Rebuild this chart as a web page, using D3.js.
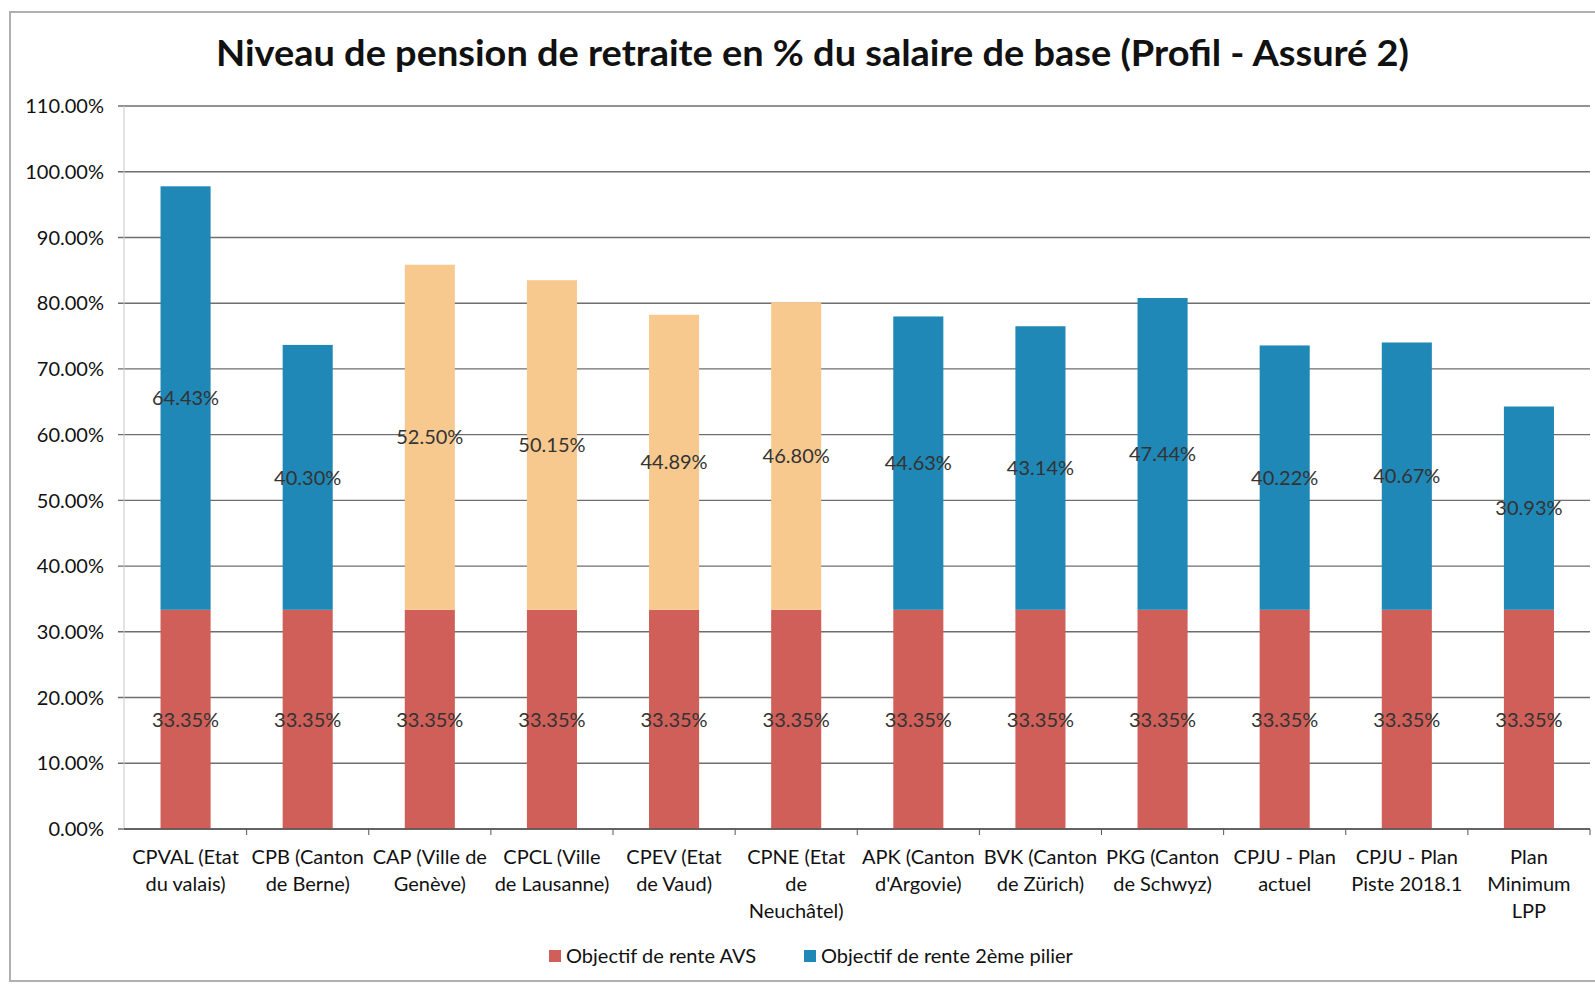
<!DOCTYPE html>
<html>
<head>
<meta charset="utf-8">
<script src="https://cdn.jsdelivr.net/npm/d3@7"></script>
<style>
  body { margin: 0; background: #fff; }
  svg text { font-family: Lato, "Open Sans", sans-serif; }
</style>
</head>
<body>
<div id="chart"></div>
<script>
// chart data
var categories = [
  "CPVAL (Etat\ndu valais)", "CPB (Canton\nde Berne)", "CAP (Ville de\nGenève)",
  "CPCL (Ville\nde Lausanne)", "CPEV (Etat\nde Vaud)", "CPNE (Etat\nde\nNeuchâtel)",
  "APK (Canton\nd'Argovie)", "BVK (Canton\nde Zürich)", "PKG (Canton\nde Schwyz)",
  "CPJU - Plan\nactuel", "CPJU - Plan\nPiste 2018.1", "Plan\nMinimum\nLPP"
];
var avsValues = [33.35, 33.35, 33.35, 33.35, 33.35, 33.35, 33.35, 33.35, 33.35, 33.35, 33.35, 33.35];
var pillarValues = [64.43, 40.30, 52.50, 50.15, 44.89, 46.80, 44.63, 43.14, 47.44, 40.22, 40.67, 30.93];
// bars of the 2nd pillar drawn in peach
var highlighted = ["CAP (Ville de\nGenève)", "CPCL (Ville\nde Lausanne)", "CPEV (Etat\nde Vaud)", "CPNE (Etat\nde\nNeuchâtel)"];
var yTicks = [0, 10, 20, 30, 40, 50, 60, 70, 80, 90, 100, 110];
var seriesNames = ["Objectif de rente AVS", "Objectif de rente 2ème pilier"];

var width = 1595, height = 985;
var colAvs = "#cf5f58", colPillar = "#1f88b6", colHigh = "#f8c98f";

var svg = d3.select("#chart").append("svg")
  .attr("width", width)
  .attr("height", height);

// frame of the chart area
svg.append("rect")
  .attr("x", 10).attr("y", 12)
  .attr("width", 1600).attr("height", 969)
  .attr("fill", "none")
  .attr("stroke", "#b0b0b0")
  .attr("stroke-width", 2);

var x = d3.scaleBand()
  .domain(categories)
  .range([124.5, 1590])
  .paddingInner(0.59)
  .paddingOuter(0.295);

var y = d3.scaleLinear()
  .domain([0, 110])
  .range([829, 106]);

// gridlines
svg.append("g")
  .selectAll("line")
  .data(yTicks)
  .enter()
  .append("line")
  .attr("x1", 118).attr("x2", 1590)
  .attr("y1", function(d) { return y(d); })
  .attr("y2", function(d) { return y(d); })
  .attr("stroke", "#6e6e6e")
  .attr("stroke-width", 1.4);

// y axis line
svg.append("line")
  .attr("x1", 124).attr("x2", 124)
  .attr("y1", y(110)).attr("y2", y(0))
  .attr("stroke", "#c8c8c8")
  .attr("stroke-width", 1);

// y labels
svg.append("g")
  .selectAll("text")
  .data(yTicks)
  .enter()
  .append("text")
  .attr("x", 104)
  .attr("y", function(d) { return y(d); })
  .attr("dy", "0.36em")
  .attr("text-anchor", "end")
  .attr("font-size", 20)
  .attr("fill", "#111")
  .text(function(d) { return d.toFixed(2) + "%"; });

// stacked bars
var stackData = categories.map(function(c, i) {
  return { cat: c, avs: avsValues[i], pillar: pillarValues[i] };
});
var stack = d3.stack().keys(["avs", "pillar"]);
var layers = stack(stackData);

svg.append("g")
  .selectAll("g")
  .data(layers)
  .enter()
  .append("g")
  .each(function(layer) {
    d3.select(this).selectAll("rect")
      .data(layer)
      .enter()
      .append("rect")
      .attr("x", function(d) { return x(d.data.cat); })
      .attr("width", x.bandwidth())
      .attr("y", function(d) { return y(d[1]); })
      .attr("height", function(d) { return y(d[0]) - y(d[1]); })
      .attr("fill", function(d) {
        if (layer.key === "avs") return colAvs;
        return highlighted.indexOf(d.data.cat) >= 0 ? colHigh : colPillar;
      });
  });

// value labels, centred on each segment
layers.forEach(function(layer) {
  svg.append("g")
    .selectAll("text")
    .data(layer)
    .enter()
    .append("text")
    .attr("x", function(d) { return x(d.data.cat) + x.bandwidth() / 2; })
    .attr("y", function(d) { return y((d[0] + d[1]) / 2); })
    .attr("dy", "0.36em")
    .attr("text-anchor", "middle")
    .attr("font-size", 20)
    .attr("fill", "#333")
    .text(function(d) { return (d[1] - d[0]).toFixed(2) + "%"; });
});

// x axis line and tick marks
svg.append("line")
  .attr("x1", 124).attr("x2", 1590)
  .attr("y1", y(0)).attr("y2", y(0))
  .attr("stroke", "#555")
  .attr("stroke-width", 1.4);

var step = x.step();
svg.append("g")
  .selectAll("line")
  .data(categories)
  .enter()
  .append("line")
  .attr("x1", function(d) { return x(d) - x.paddingOuter() * step + step; })
  .attr("x2", function(d) { return x(d) - x.paddingOuter() * step + step; })
  .attr("y1", y(0)).attr("y2", y(0) + 6)
  .attr("stroke", "#555");

// category labels
var catText = svg.append("g")
  .selectAll("text")
  .data(categories)
  .enter()
  .append("text")
  .attr("x", function(d) { return x(d) + x.bandwidth() / 2; })
  .attr("y", 864)
  .attr("text-anchor", "middle")
  .attr("font-size", 20)
  .attr("fill", "#111");

catText.selectAll("tspan")
  .data(function(d) { return d.split("\n"); })
  .enter()
  .append("tspan")
  .attr("x", function() { return d3.select(this.parentNode).attr("x"); })
  .attr("dy", function(d, i) { return i === 0 ? 0 : 27; })
  .text(function(d) { return d; });

// title
svg.append("text")
  .attr("x", 216)
  .attr("y", 66)
  .attr("font-size", 37)
  .attr("font-weight", "bold")
  .attr("fill", "#111")
  .attr("textLength", 1193)
  .attr("lengthAdjust", "spacingAndGlyphs")
  .text("Niveau de pension de retraite en % du salaire de base (Profil - Assuré 2)");

// legend
var legend = [
  { name: seriesNames[0], color: colAvs, x: 549 },
  { name: seriesNames[1], color: colPillar, x: 804 }
];
var lg = svg.append("g")
  .selectAll("g")
  .data(legend)
  .enter()
  .append("g")
  .attr("transform", function(d) { return "translate(" + d.x + ",956)"; });

lg.append("rect")
  .attr("x", 0).attr("y", -6)
  .attr("width", 12).attr("height", 12)
  .attr("fill", function(d) { return d.color; });

lg.append("text")
  .attr("x", 17)
  .attr("dy", "0.36em")
  .attr("font-size", 20)
  .attr("fill", "#111")
  .text(function(d) { return d.name; });
</script>
</body>
</html>
